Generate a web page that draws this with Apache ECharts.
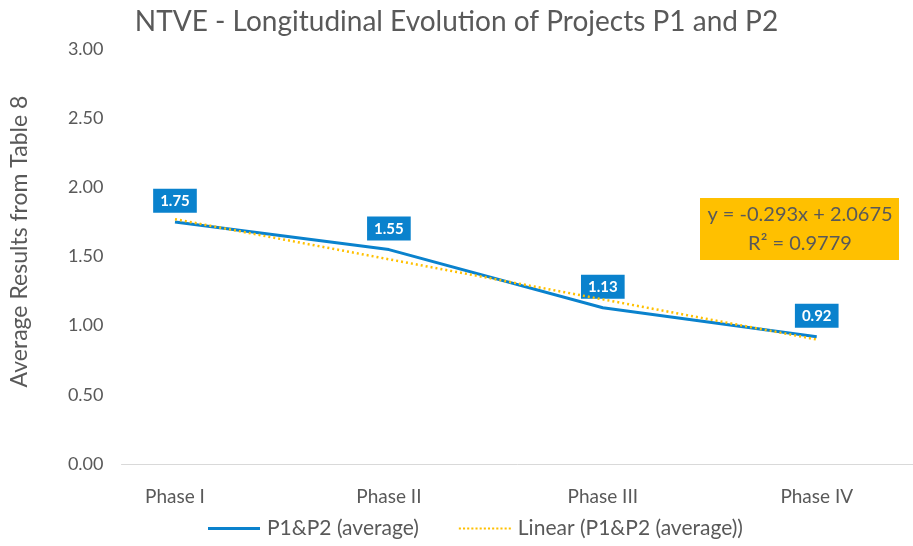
<!DOCTYPE html>
<html>
<head>
<meta charset="utf-8">
<script src="https://cdn.jsdelivr.net/npm/echarts@6/dist/echarts.min.js"></script>
<style>html,body{margin:0;padding:0;background:#fff;}#c{width:913px;height:546px;}</style>
</head>
<body>
<div id="c"></div>
<script>
var categories = ['Phase I', 'Phase II', 'Phase III', 'Phase IV'];
var averageValues = [1.75, 1.55, 1.13, 0.92];
var trendValues = [1.77, 1.48, 1.19, 0.90];
var yTicks = [0, 0.5, 1, 1.5, 2, 2.5, 3];
var seriesNames = ['P1&P2 (average)', 'Linear (P1&P2 (average))'];
var equationLines = ['y = -0.293x + 2.0675', 'R² = 0.9779'];

var FONT = 'Lato, "Open Sans", sans-serif';
var GRAY = '#595959';
var BLUE = '#0A82CD';

function pts(vals) { return vals.map(function (v, i) { return [i + 1, v]; }); }
var xPositions = categories.map(function (c, i) { return i + 1; });

var dottedIcon = 'path://' + [0, 1, 2, 3, 4, 5, 6, 7, 8, 9, 10, 11, 12].map(function (i) {
  var x = i * 4; return 'M' + x + ',0 L' + (x + 2) + ',0 L' + (x + 2) + ',2 L' + x + ',2 Z';
}).join(' ');

var chart = echarts.init(document.getElementById('c'), null, { renderer: 'canvas' });
chart.setOption({
  animation: false,
  backgroundColor: '#ffffff',
  title: {
    text: 'NTVE - Longitudinal Evolution of Projects P1 and P2',
    left: 'center',
    top: 3,
    textStyle: { fontFamily: FONT, fontSize: 28, fontWeight: 'normal', color: GRAY }
  },
  grid: { left: 121.5, right: 0, top: 49, bottom: 82, containLabel: false },
  xAxis: {
    type: 'value',
    min: 0.75,
    max: 4.45,
    axisLine: { show: true, lineStyle: { color: '#D9D9D9', width: 1 } },
    axisTick: { show: false },
    splitLine: { show: false },
    axisLabel: {
      customValues: xPositions,
      margin: 23,
      fontFamily: FONT, fontSize: 19, color: GRAY,
      formatter: function (v) { return categories[Math.round(v) - 1] || ''; }
    }
  },
  yAxis: {
    type: 'value',
    min: yTicks[0],
    max: yTicks[yTicks.length - 1],
    interval: 0.5,
    name: 'Average Results from Table 8',
    nameLocation: 'middle',
    nameGap: 90,
    nameTextStyle: { fontFamily: FONT, fontSize: 23, color: GRAY, padding: [0, 0, 0, 30] },
    axisLine: { show: false },
    axisTick: { show: false },
    splitLine: { show: false },
    axisLabel: {
      margin: 18,
      fontFamily: FONT, fontSize: 18, color: GRAY,
      formatter: function (v) { return v.toFixed(2); }
    }
  },
  legend: {
    bottom: 2,
    left: 203,
    itemWidth: 52,
    itemHeight: 3,
    itemGap: 40,
    textStyle: { fontFamily: FONT, fontSize: 21, color: GRAY, padding: [0, 0, 0, 2] },
    data: [
      { name: seriesNames[0], icon: 'path://M0,0 L52,0 L52,3 L0,3 Z', itemStyle: { color: BLUE } },
      { name: seriesNames[1], icon: dottedIcon, itemStyle: { color: '#FFC000' } }
    ]
  },
  series: [
    {
      name: seriesNames[0],
      type: 'line',
      data: pts(averageValues),
      symbol: 'circle',
      symbolSize: 0.1,
      showSymbol: true,
      lineStyle: { color: BLUE, width: 3 },
      itemStyle: { color: BLUE },
      z: 2,
      label: {
        show: true,
        position: 'top',
        distance: 9,
        formatter: function (p) { return p.value[1].toFixed(2); },
        backgroundColor: BLUE,
        color: '#ffffff',
        fontFamily: FONT,
        fontWeight: 'bold',
        fontSize: 15,
        padding: [5, 7, 4, 7]
      }
    },
    {
      name: seriesNames[1],
      type: 'line',
      data: pts(trendValues),
      symbol: 'none',
      lineStyle: { color: '#FFC000', width: 2.5, type: [2, 3] },
      itemStyle: { color: '#FFC000' },
      z: 3
    }
  ],
  graphic: [
    {
      type: 'group',
      left: 700,
      top: 198,
      children: [
        { type: 'rect', shape: { x: 0, y: 0, width: 199, height: 62 }, style: { fill: '#FFC000' } },
        { type: 'text', x: 100, y: 17, style: { text: equationLines[0], fill: GRAY, font: '20px ' + FONT, textAlign: 'center', textVerticalAlign: 'middle' } },
        { type: 'text', x: 100, y: 46, style: { text: equationLines[1], fill: GRAY, font: '20px ' + FONT, textAlign: 'center', textVerticalAlign: 'middle' } }
      ]
    }
  ]
});
</script>
</body>
</html>
